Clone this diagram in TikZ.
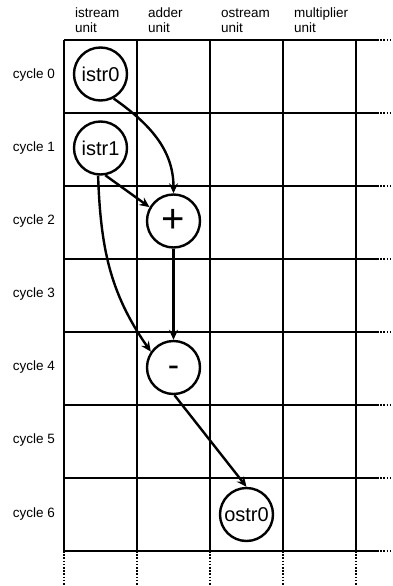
\documentclass[tikz,border=0pt]{standalone}
\usepackage{fontspec}
\setmainfont{Liberation Sans}
\usetikzlibrary{arrows.meta}

\tikzset{
    headlabel/.style={anchor=base west, align=left, inner sep=0pt, font=\fontsize{13.5}{15.5}\selectfont},
    cyclelabel/.style={anchor=east, inner sep=0pt, font=\fontsize{13.5}{15}\selectfont},
    opnode/.style={circle, draw=black, fill=white, minimum size=53pt, inner sep=0pt, font=\fontsize{20}{20}\selectfont},
    gridline/.style={line width=2.5pt},
    gridmore/.style={line width=2.5pt, dash pattern=on 1.6pt off 1.6pt},
}

\begin{document}
\begin{tikzpicture}[x=1pt, y=1pt, line width=2.4pt, >={Stealth[length=10pt,width=9pt]}]
    \useasboundingbox (0,0) rectangle (392,-586);

    % grid of units and cycles
    \foreach \i in {0,...,4} {
        \draw [gridline] (64+73*\i, -40) -- (64+73*\i, -551);
        \draw [gridmore] (64+73*\i, -551) -- (64+73*\i, -586);
    }
    \foreach \j in {0,...,7} {
        \draw [gridline] (64, -40-73*\j) -- (377, -40-73*\j);
        \draw [gridmore] (377, -40-73*\j) -- (392, -40-73*\j);
    }

    \node [headlabel] (istream) at (74, -33) {istream\\unit};
    \node [headlabel] (adder) at (147, -33) {adder\\unit};
    \node [headlabel] (ostream) at (220, -33) {ostream\\unit};
    \node [headlabel] (multiplier) at (293, -33) {multiplier\\unit};

    \node [cyclelabel] (cycle0) at (56, -75) {cycle 0};
    \node [cyclelabel] (cycle1) at (56, -148.5) {cycle 1};
    \node [cyclelabel] (cycle2) at (56, -221.5) {cycle 2};
    \node [cyclelabel] (cycle3) at (56, -294.5) {cycle 3};
    \node [cyclelabel] (cycle4) at (56, -367.5) {cycle 4};
    \node [cyclelabel] (cycle5) at (56, -440.5) {cycle 5};
    \node [cyclelabel] (cycle6) at (56, -514.5) {cycle 6};

    \node [opnode] (istr0) at (100.5, -74) {istr0};
    \node [opnode] (istr1) at (100.5, -148) {istr1};
    \node [opnode, font=\fontsize{40}{40}\selectfont] (plus) at (173.5, -221) {+};
    \node [opnode, font=\fontsize{34}{34}\selectfont, text height=18pt, text depth=0pt] (minus) at (173.5, -367.5) {-};
    \node [opnode] (ostr0) at (246.5, -514.5) {ostr0};

    \draw [->] (istr0.-62) to [out=-35, in=90] (plus.north);
    \draw [->] (istr1.-80) -- (plus.150);
    \draw [->] (istr1.-95) to [out=-88, in=125] (minus.145);
    \draw [->] (plus) -- (minus);
    \draw [->] (minus.-88) -- (ostr0.north);
\end{tikzpicture}
\end{document}
